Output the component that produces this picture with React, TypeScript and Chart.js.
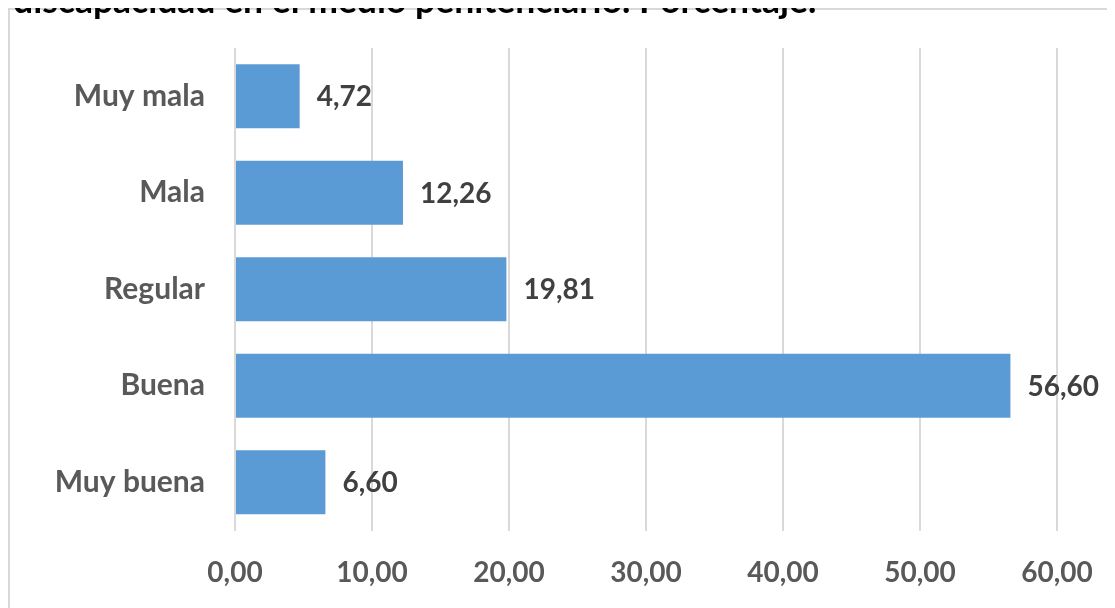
import React, { useEffect, useRef } from "react";
import { Chart, registerables } from "chart.js";

Chart.register(...registerables);

const categories = ["Muy mala", "Mala", "Regular", "Buena", "Muy buena"];
const values = [4.72, 12.26, 19.81, 56.6, 6.6];
const xTickStep = 10;
const xMin = 0;
const xMax = 60;
const titleText = "discapacidad en el medio penitenciario. Porcentaje.";

const FONT = "Lato, 'Open Sans', sans-serif";
const fmt = (v: number) => v.toFixed(2).replace(".", ",");

const dataLabelPlugin = {
  id: "dataLabels",
  afterDatasetsDraw(chart: any) {
    const ctx = chart.ctx;
    const meta = chart.getDatasetMeta(0);
    ctx.save();
    ctx.font = `bold 28px ${FONT}`;
    ctx.fillStyle = "#404040";
    ctx.textAlign = "left";
    ctx.textBaseline = "middle";
    meta.data.forEach((bar: any, i: number) => {
      const v = chart.data.datasets[0].data[i] as number;
      ctx.fillText(fmt(v), bar.x + 17, bar.y + 1);
    });
    ctx.restore();
  },
};

export default function App() {
  const ref = useRef<HTMLCanvasElement>(null);
  useEffect(() => {
    if (!ref.current) return;
    const chart = new Chart(ref.current, {
      type: "bar",
      data: {
        labels: categories,
        datasets: [
          {
            data: values,
            backgroundColor: "#5B9BD5",
            borderWidth: 0,
            categoryPercentage: 1,
            barPercentage: 0.663,
          },
        ],
      },
      options: {
        indexAxis: "y",
        animation: false,
        responsive: false,
        layout: { padding: { top: 38, right: 58, left: 0, bottom: 0 } },
        plugins: {
          legend: { display: false },
          tooltip: { enabled: false },
          title: { display: false },
        },
        scales: {
          x: {
            min: xMin,
            max: xMax,
            ticks: {
              stepSize: xTickStep,
              padding: 26,
              color: "#595959",
              font: { family: FONT, size: 28, weight: "bold" },
              callback: (v: any) => fmt(Number(v)),
            },
            grid: { color: "#d9d9d9", lineWidth: 2, drawTicks: false },
            border: { display: false },
            afterFit: (s: any) => {
              s.height = 77.5;
              s.paddingLeft = 0;
              s.paddingRight = 0;
            },
          },
          y: {
            ticks: {
              padding: 30,
              color: "#595959",
              font: { family: FONT, size: 30, weight: "bold" },
            },
            grid: { display: false, drawTicks: false },
            border: { display: false },
            afterFit: (s: any) => {
              s.width = 225;
              s.paddingTop = 0;
              s.paddingBottom = 0;
            },
          },
        },
      },
      plugins: [dataLabelPlugin],
    });
    return () => chart.destroy();
  }, []);

  return (
    <div style={{ position: "relative", width: 1107, height: 600 }}>
      <div
        style={{
          position: "absolute",
          left: 0,
          top: 0,
          width: 1107,
          height: 600,
          borderTop: "2px solid #d9d9d9",
          borderLeft: "2px solid #d9d9d9",
          boxSizing: "border-box",
          background: "#fff",
        }}
      />
      <div style={{ position: "absolute", left: 2, top: 2, width: 1105, height: 598 }}>
        <canvas ref={ref} width={1105} height={598} style={{ display: "block" }} />
      </div>
      <div
        style={{
          position: "absolute",
          left: 5,
          top: -26,
          fontFamily: FONT,
          fontWeight: "bold",
          fontSize: 35.5,
          lineHeight: "36px",
          color: "#000",
          whiteSpace: "nowrap",
        }}
      >
        {titleText}
      </div>
    </div>
  );
}
